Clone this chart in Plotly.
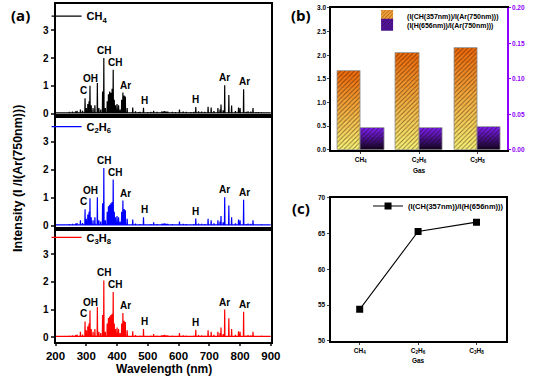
import plotly.graph_objects as go

W, H = 533, 380

# ---------------- data: (a) emission spectra (stick representation) ----------------
peak_wl = [210, 230, 245, 255, 265, 270, 281, 288, 296, 300, 305, 309, 312, 316, 322, 328,
           336, 341, 347, 353, 357, 362, 368, 372, 376, 380, 384, 387.5, 391, 395, 400, 405,
           410, 415, 419, 423, 427, 433, 451, 460, 470, 475, 486, 500, 510, 519, 530, 545,
           550, 555, 560, 565, 580, 590, 603, 615, 625, 640, 650, 656, 665, 675, 685, 696,
           706, 715, 728, 735, 738, 745, 750, 763.5, 772.5, 785, 795, 800, 811.5, 820, 826,
           835, 842, 852, 860, 870]
ch4_h = [0.04, 0.05, 0.06, 0.07, 0.08, 0.10, 0.15, 0.10, 0.55, 0.20, 0.35, 0.45, 1.00, 0.30, 0.20, 0.30,
         1.10, 0.20, 0.15, 0.80, 2.00, 0.20, 0.45, 0.70, 0.80, 0.75, 0.90, 1.58, 0.50, 0.30, 0.35, 0.30,
         0.15, 0.50, 0.76, 0.65, 0.62, 0.20, 0.22, 0.08, 0.05, 0.06, 0.21, 0.05, 0.06, 0.10, 0.06, 0.07,
         0.08, 0.09, 0.07, 0.07, 0.06, 0.05, 0.15, 0.07, 0.06, 0.05, 0.06, 0.24, 0.08, 0.07, 0.06, 0.25,
         0.22, 0.09, 0.20, 0.15, 0.33, 0.12, 1.02, 0.67, 0.29, 0.09, 0.22, 0.20, 0.88, 0.06, 0.08,
         0.07, 0.20, 0.05, 0.05, 0.04]
c2h6_h = [0.04, 0.05, 0.06, 0.07, 0.08, 0.10, 0.20, 0.10, 0.59, 0.25, 0.40, 0.50, 0.98, 0.30, 0.20, 0.30,
          1.02, 0.20, 0.15, 0.80, 2.06, 0.20, 0.50, 0.70, 0.75, 0.80, 0.85, 1.65, 0.50, 0.30, 0.35, 0.30,
          0.15, 0.50, 0.90, 0.60, 0.55, 0.25, 0.22, 0.08, 0.05, 0.06, 0.30, 0.05, 0.06, 0.12, 0.06, 0.07,
          0.08, 0.09, 0.07, 0.07, 0.06, 0.05, 0.15, 0.07, 0.06, 0.05, 0.06, 0.26, 0.08, 0.07, 0.06, 0.25,
          0.20, 0.09, 0.20, 0.15, 0.35, 0.12, 1.02, 0.72, 0.30, 0.09, 0.22, 0.20, 0.93, 0.06, 0.08,
          0.07, 0.20, 0.05, 0.05, 0.04]
c3h8_h = [0.04, 0.05, 0.06, 0.07, 0.08, 0.10, 0.20, 0.10, 0.57, 0.25, 0.40, 0.50, 0.97, 0.30, 0.20, 0.30,
          1.09, 0.20, 0.15, 0.80, 2.05, 0.20, 0.50, 0.70, 0.75, 0.80, 0.85, 1.63, 0.50, 0.30, 0.35, 0.30,
          0.15, 0.50, 0.88, 0.60, 0.55, 0.25, 0.22, 0.08, 0.05, 0.06, 0.30, 0.05, 0.06, 0.12, 0.06, 0.07,
          0.08, 0.09, 0.07, 0.07, 0.06, 0.05, 0.15, 0.07, 0.06, 0.05, 0.06, 0.27, 0.08, 0.07, 0.06, 0.25,
          0.20, 0.09, 0.20, 0.15, 0.35, 0.12, 1.00, 0.69, 0.30, 0.09, 0.22, 0.20, 0.92, 0.06, 0.08,
          0.07, 0.20, 0.05, 0.05, 0.04]
baseline = 0.03

# peak labels: text, label position (nm), wavelength of the labelled peak
label_text = ["C", "OH", "CH", "CH", "Ar", "H", "H", "Ar", "Ar"]
label_wl = [290, 314, 357.5, 393, 429, 490, 654, 750, 815]
label_peak = [296, 312, 357, 387.5, 419, 486, 656, 750, 811.5]

gas_names = ["CH<sub>4</sub>", "C<sub>2</sub>H<sub>6</sub>", "C<sub>3</sub>H<sub>8</sub>"]
gas_colors = ["#000000", "#0000ff", "#ff0000"]
wl_ticks = [200, 300, 400, 500, 600, 700, 800, 900]

# ---------------- data: (b) and (c) ----------------
gas_x = [0, 1, 2]
ratio_ch_ar = [1.66, 2.04, 2.15]
ratio_h_ar = [0.0305, 0.0312, 0.0323]
ratio_ch_h = [54.4, 65.3, 66.6]

# ---------------- helpers ----------------
def px_x(p):
    return p / W

def px_y(p):
    return 1 - p / H

FONT = "Liberation Sans, Arial, sans-serif"
LBL = "Open Sans, sans-serif"
PURPLE = "#8f00ff"
LEG_OFF = 14.5  # legend top -> first item centre (px)


def stick(wl, h, base, hw=0.8):
    xs, ys = [200], [base]
    for w, v in zip(wl, h):
        xs += [w - hw, w, w + hw]
        ys += [base, v, base]
    xs.append(900)
    ys.append(base)
    return xs, ys


fig = go.Figure()

spectra = [ch4_h, c2h6_h, c3h8_h]
ax_ids = ["", "2", "3"]
legends = ["legend", "legend2", "legend3"]
for k in range(3):
    xs, ys = stick(peak_wl, spectra[k], baseline)
    fig.add_trace(go.Scatter(
        x=xs, y=ys, mode="lines", name=gas_names[k],
        line=dict(color=gas_colors[k], width=1.2),
        xaxis="x" + ax_ids[k], yaxis="y" + ax_ids[k],
        legend=legends[k], showlegend=True))

# ---------------- (b) gradient hatched bars ----------------
N = 14

def lerp(c1, c2, t):
    return "rgb(%d,%d,%d)" % tuple(round(a + (b - a) * t) for a, b in zip(c1, c2))

or_bot, or_top = (250, 245, 120), (240, 105, 10)
pu_bot, pu_top = (12, 0, 24), (125, 30, 245)

for vals, cb, ct, yax, off, nm, lg in [
        (ratio_ch_ar, or_bot, or_top, "y4", -0.4, "(I(CH(357nm))/I(Ar(750nm)))", "legend4"),
        (ratio_h_ar, pu_bot, pu_top, "y5", 0.0, "(I(H(656nm))/I(Ar(750nm)))", "legend6")]:
    for i in range(N):
        t = (i + 0.5) / N
        col = lerp(cb, ct, t)
        fig.add_trace(go.Bar(
            x=gas_x, y=[v / N for v in vals], base=[v * i / N for v in vals],
            width=0.4, offset=off, xaxis="x4", yaxis=yax,
            marker=dict(color=col, line=dict(width=0),
                        pattern=dict(shape="/", fillmode="overlay", fgcolor="#1a0a00",
                                     fgopacity=0.5, size=3.2, solidity=0.3)),
            name=nm, legend=lg, showlegend=(i == N // 2 + 1), hoverinfo="skip"))
    fig.add_trace(go.Bar(
        x=gas_x, y=vals, width=0.4, offset=off, xaxis="x4", yaxis=yax,
        marker=dict(color="rgba(0,0,0,0)", line=dict(color="#8a8a8a", width=0.8)),
        showlegend=False, hoverinfo="skip"))

# ---------------- (c) line ----------------
fig.add_trace(go.Scatter(
    x=gas_x, y=ratio_ch_h, mode="lines+markers", name="(I(CH(357nm))/I(H(656nm)))",
    line=dict(color="black", width=1.1),
    marker=dict(symbol="square", size=7, color="black"),
    xaxis="x6", yaxis="y6", legend="legend5"))

# ---------------- layout ----------------
xa_dom = [px_x(47.3), px_x(271)]
panel_px = [(0.5, 114), (114, 230), (230, 345)]
legend_cy = [12, 125, 238]
y_ranges = [[-0.07, 3.93], [-0.12, 3.93], [-0.16, 3.9]]

axis_common = dict(showline=True, linecolor="black", linewidth=2, mirror=True,
                   showgrid=False, zeroline=False)

lay = dict(
    width=W, height=H, margin=dict(l=0, r=0, t=0, b=0),
    paper_bgcolor="white", plot_bgcolor="white",
    font=dict(family=FONT, color="black"),
    barmode="overlay", bargap=0, showlegend=True,
)

for k in range(3):
    top, bot = panel_px[k]
    xa = dict(axis_common, domain=xa_dom, anchor="y" + ax_ids[k], range=[200, 900])
    if k < 2:
        xa.update(showticklabels=False, ticks="")
    else:
        xa.update(tickvals=wl_ticks, ticks="outside", ticklen=2, tickwidth=1.5,
                  tickfont=dict(size=11.5, weight="bold"))
    ya = dict(axis_common, domain=[px_y(bot), px_y(top)], anchor="x" + ax_ids[k],
              range=y_ranges[k], tickvals=[0, 1, 2, 3], ticks="outside", ticklen=3,
              tickwidth=1.5, tickfont=dict(size=10, weight="bold"))
    lay["xaxis" + ax_ids[k]] = xa
    lay["yaxis" + ax_ids[k]] = ya
    lay[legends[k]] = dict(x=px_x(38), y=px_y(legend_cy[k] - LEG_OFF), xanchor="left", yanchor="top",
                           bgcolor="rgba(0,0,0,0)", font=dict(size=11, weight="bold"),
                           itemwidth=30, tracegroupgap=0)

small = dict(size=6.5, weight="bold")
lay["xaxis4"] = dict(axis_common, domain=[px_x(334), px_x(516)], anchor="y4",
                     range=[-0.5, 2.5], tickvals=gas_x, ticktext=gas_names,
                     ticks="outside", ticklen=2, tickfont=small,
                     title=dict(text="Gas", font=small, standoff=5))
lay["yaxis4"] = dict(showline=True, linecolor="black", linewidth=2, showgrid=False,
                     zeroline=False, domain=[px_y(149), px_y(4)], anchor="x4",
                     range=[0, 3], dtick=0.5, tickformat=".1f", ticks="outside",
                     ticklen=2, tickfont=small)
lay["yaxis5"] = dict(showline=True, linecolor=PURPLE, linewidth=2, showgrid=False,
                     zeroline=False, overlaying="y4", side="right", anchor="x4",
                     range=[0, 0.2], dtick=0.05, tickformat=".2f", ticks="outside",
                     ticklen=2, tickcolor=PURPLE, tickfont=dict(size=6.5, weight="bold", color=PURPLE))
for lg, cy in [("legend4", 12), ("legend6", 21)]:
    lay[lg] = dict(x=px_x(371), y=px_y(cy - LEG_OFF), xanchor="left", yanchor="top",
                   bgcolor="rgba(0,0,0,0)", font=dict(size=7, weight="bold"),
                   tracegroupgap=0, itemwidth=30)

lay["xaxis6"] = dict(axis_common, domain=[px_x(333), px_x(515)], anchor="y6",
                     range=[-0.5, 2.5], tickvals=gas_x, ticktext=gas_names,
                     ticks="outside", ticklen=2, tickfont=small,
                     title=dict(text="Gas", font=small, standoff=5))
lay["yaxis6"] = dict(axis_common, domain=[px_y(344), px_y(198)], anchor="x6",
                     range=[50, 70], dtick=5, ticks="outside", ticklen=2, tickfont=small)
lay["legend5"] = dict(x=px_x(372), y=px_y(206 - LEG_OFF), xanchor="left", yanchor="top",
                      bgcolor="rgba(0,0,0,0)", font=dict(size=7.5, weight="bold"),
                      itemwidth=30)

annotations = []
for k in range(3):
    for txt, lw, pw in zip(label_text, label_wl, label_peak):
        hgt = spectra[k][peak_wl.index(pw)]
        annotations.append(dict(text=txt, x=lw, y=hgt, xref="x" + ax_ids[k], yref="y" + ax_ids[k],
                                xanchor="center", yanchor="bottom", yshift=0, showarrow=False,
                                font=dict(size=10, weight="bold")))

for txt, cx, cy in [("(a)", 11, 11), ("(b)", 302, 11), ("(c)", 302, 208)]:
    annotations.append(dict(text=txt, x=px_x(cx), y=px_y(cy), xref="paper", yref="paper",
                            xanchor="center", yanchor="middle", showarrow=False,
                            font=dict(family=LBL, size=15, weight="bold")))

annotations.append(dict(text="Intensity (I /I(Ar(750nm)))", x=px_x(9), y=px_y(178),
                        xref="paper", yref="paper", textangle=-90, showarrow=False,
                        xanchor="center", yanchor="middle", font=dict(size=12.5, weight="bold")))
annotations.append(dict(text="Wavelength (nm)", x=px_x(160), y=px_y(373),
                        xref="paper", yref="paper", showarrow=False,
                        xanchor="center", yanchor="middle", font=dict(size=12, weight="bold")))
lay["annotations"] = annotations

fig.update_layout(**lay)
fig.write_html("out.html", post_script="document.body.style.margin='0';",
               config={"displayModeBar": False})
